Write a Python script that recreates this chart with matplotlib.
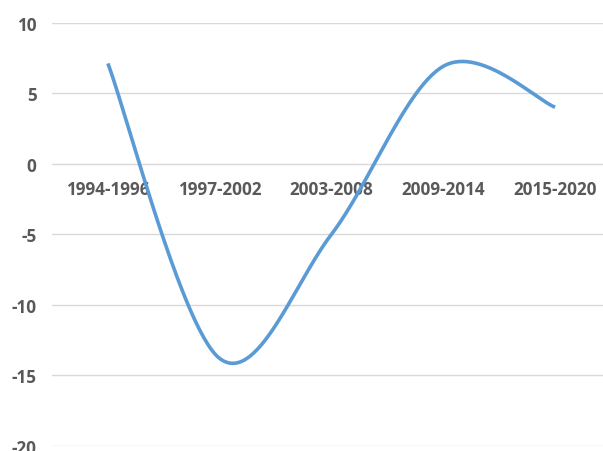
import numpy as np
import matplotlib.pyplot as plt

# periods and values
periods = ["1994-1996", "1997-2002", "2003-2008", "2009-2014", "2015-2020"]
values = [7.1, -13.8, -5.0, 6.9, 4.0]
y_ticks = [-20, -15, -10, -5, 0, 5, 10]

LINE = "#5B9BD5"
GRID = "#D9D9D9"
TEXT = "#595959"

plt.rcParams["axes.unicode_minus"] = False


def smooth(xs, ys, n=60):
    # cubic bezier through the points, tangents from neighbours (like a spreadsheet "smoothed line")
    pts = np.column_stack([xs, ys]).astype(float)
    ext = np.vstack([pts[0], pts, pts[-1]])
    out = []
    for i in range(len(pts) - 1):
        p0, p1 = pts[i], pts[i + 1]
        c1 = p0 + (ext[i + 2] - ext[i]) / 6
        c2 = p1 - (ext[i + 3] - ext[i + 1]) / 6
        t = np.linspace(0, 1, n)[:, None]
        seg = ((1 - t) ** 3 * p0 + 3 * (1 - t) ** 2 * t * c1
               + 3 * (1 - t) * t ** 2 * c2 + t ** 3 * p1)
        out.append(seg if i == 0 else seg[1:])
    seg = np.vstack(out)
    return seg[:, 0], seg[:, 1]


fig = plt.figure(figsize=(6.03, 4.52), dpi=100)
ax = fig.add_axes([52 / 603, 1 - 447 / 452, (611 - 52) / 603, (447 - 23.5) / 452])

x = np.arange(len(periods))
sx, sy = smooth(x, values)
ax.plot(sx, sy, color=LINE, lw=2.6, solid_capstyle="butt", zorder=3)

ax.set_xlim(-0.5, len(periods) - 0.5)
ax.set_ylim(-20, 10)
ax.set_yticks(y_ticks)
ax.set_xticks(x)
ax.set_xticklabels(periods)

for y in y_ticks:
    ax.axhline(y, color=GRID, lw=1, zorder=1)

for s in ax.spines.values():
    s.set_visible(False)
ax.spines["bottom"].set_position(("data", 0))
ax.tick_params(axis="both", length=0)
ax.tick_params(axis="x", pad=12)
ax.tick_params(axis="y", pad=11)
for lab in ax.get_xticklabels() + ax.get_yticklabels():
    lab.set_fontfamily("Open Sans")
    lab.set_fontweight("bold")
    lab.set_fontsize(12.3)
    lab.set_color(TEXT)

fig.savefig("out.png", dpi=100)
